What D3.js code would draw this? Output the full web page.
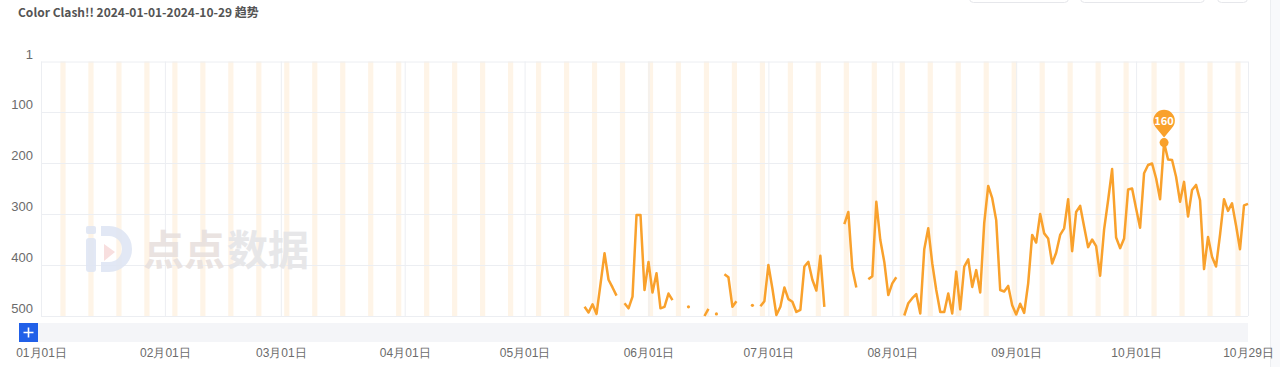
<!DOCTYPE html>
<html>
<head>
<meta charset="utf-8">
<script src="https://cdn.jsdelivr.net/npm/d3@7"></script>
<style>
  body { margin: 0; background: #fff; }
  svg { display: block; font-family: "Noto Sans CJK SC", "Noto Sans", sans-serif; }
</style>
</head>
<body>
<svg id="chart"></svg>
<script>
// daily rank from 2024-05-16 to 2024-10-29, null = not ranked
const firstDay = "2024-05-16";
const ranks = [
  482, 493, 477, 496, 437, 377, 429, 444, 460, null,
  475, 485, 462, 302, 302, 449, 394, 454, 416, 485,
  482, 456, 469, null, null, null, 482, null, null, null,
  500, 486, null, 496, null, 418, 424, 482, 471, null,
  null, null, 479, null, 481, 471, 400, 446, 498, 482,
  444, 467, 472, 492, 488, 403, 394, 429, 450, 382,
  482, null, null, null, null, 320, 296, 407, 444, null,
  null, 428, 422, 276, 351, 394, 459, 436, 424, null,
  499, 475, 465, 457, 495, 369, 328, 397, 449, 492,
  492, 456, 495, 413, 487, 403, 389, 443, 410, 454,
  318, 245, 269, 312, 449, 452, 441, 479, 497, 476,
  494, 436, 341, 356, 300, 338, 348, 397, 376, 341,
  328, 271, 373, 296, 284, 325, 365, 350, 363, 421,
  330, 273, 212, 346, 367, 348, 252, 250, 289, 327,
  220, 204, 201, 230, 271, 160, 193, 194, 227, 276,
  237, 305, 253, 243, 273, 408, 345, 384, 403, 341,
  271, 294, 279, 322, 369, 283, 280
];
const rangeStart = "2024-01-01";
const rangeEnd = "2024-10-29";
const yTicks = [1, 100, 200, 300, 400, 500];
const xTickDates = ["2024-01-01", "2024-02-01", "2024-03-01", "2024-04-01", "2024-05-01",
  "2024-06-01", "2024-07-01", "2024-08-01", "2024-09-01", "2024-10-01", "2024-10-29"];
const peakDate = "2024-10-08";
const peakLabel = "160";
const title = "Color Clash!! 2024-01-01-2024-10-29 趋势";

document.addEventListener("DOMContentLoaded", function () {
  const w = 1280;
  const h = 367;
  const left = 41;
  const right = 1248;
  const top = 61.5;
  const bottom = 316;
  const lineColor = "#f9a12c";

  const parse = d3.utcParse("%Y-%m-%d");
  const start = parse(firstDay);
  const data = ranks.map((r, i) => ({ date: d3.utcDay.offset(start, i), rank: r }));

  const svg = d3.select("#chart").attr("width", w).attr("height", h);

  const xScale = d3.scaleUtc().domain([parse(rangeStart), parse(rangeEnd)]).range([left, right]);
  const yScale = d3.scaleLinear().domain([1, 500]).range([top, bottom]);

  // title
  svg.append("text")
    .attr("x", 18).attr("y", 17)
    .attr("font-size", 12).attr("font-weight", "bold")
    .attr("fill", "#545454")
    .text(title);

  // controls cut off at the top right
  [[969, 99], [1080, 124], [1217, 30]].forEach(([bx, bw]) => {
    svg.append("rect")
      .attr("x", bx + 0.5).attr("y", -20).attr("width", bw).attr("height", 22.5).attr("rx", 4)
      .attr("fill", "#fff").attr("stroke", "#e6e7eb");
  });
  svg.append("rect").attr("x", 1270).attr("y", 0).attr("width", 10).attr("height", h).attr("fill", "#f8f9fb");
  svg.append("line").attr("x1", 1270.5).attr("x2", 1270.5).attr("y1", 0).attr("y2", h).attr("stroke", "#eceef1");

  // weekend stripes
  const saturdays = d3.utcSaturday.range(parse(rangeStart), d3.utcDay.offset(parse(rangeEnd), 1));
  svg.append("g")
    .selectAll("rect")
    .data(saturdays)
    .enter()
    .append("rect")
    .attr("x", (d) => xScale(d) - 0.6)
    .attr("width", (d) => Math.min(xScale(d3.utcDay.offset(d, 1)) + 0.6, right) - xScale(d) + 0.6)
    .attr("y", top)
    .attr("height", bottom - top)
    .attr("fill", "#fef4e7");

  // axes + grid
  const yAxis = d3.axisLeft(yScale).tickValues(yTicks).tickSize(-(right - left)).tickPadding(8);
  const yG = svg.append("g").attr("transform", `translate(${left}, 0)`).call(yAxis);
  yG.select(".domain").remove();
  yG.selectAll("line").attr("stroke", "#eceef2");
  yG.selectAll("text").attr("y", -7.5).attr("font-size", 13).attr("fill", "#6b6b6b");

  const xAxis = d3.axisBottom(xScale)
    .tickValues(xTickDates.map(parse))
    .tickFormat(d3.utcFormat("%m月%d日"))
    .tickSize(-(bottom - top))
    .tickPadding(32);
  const xG = svg.append("g").attr("transform", `translate(0, ${bottom})`).call(xAxis);
  xG.select(".domain").remove();
  xG.selectAll("line").attr("stroke", "#eceef2");
  xG.selectAll("text").attr("font-size", 12).attr("fill", "#6b6b6b");

  // watermark
  const wm = svg.append("g").attr("opacity", 0.9);
  wm.append("rect").attr("x", 86).attr("y", 226).attr("width", 10).attr("height", 8).attr("rx", 2).attr("fill", "#dfe6f4");
  wm.append("rect").attr("x", 86).attr("y", 238).attr("width", 10).attr("height", 34).attr("rx", 3).attr("fill", "#dfe6f4");
  wm.append("path")
    .attr("d", "M101,231 h8 a18,18 0 0 1 0,36 h-8")
    .attr("fill", "none").attr("stroke", "#dfe6f4").attr("stroke-width", 10);
  wm.append("path").attr("d", "M104,244 L115,252 L104,261 Z").attr("fill", "#f8dcdc");
  wm.append("text")
    .attr("x", 143).attr("y", 265)
    .attr("font-size", 41).attr("font-weight", "bold")
    .attr("fill", "#e8e1de")
    .text("点点");
  wm.append("text")
    .attr("x", 227).attr("y", 265)
    .attr("font-size", 41).attr("font-weight", "bold")
    .attr("fill", "#e5e5e7")
    .text("数据");

  // slider
  svg.append("rect").attr("x", 38).attr("y", 323).attr("width", right - 38).attr("height", 19).attr("fill", "#f4f5f8");
  svg.append("rect").attr("x", 19).attr("y", 323).attr("width", 19).attr("height", 19).attr("fill", "#2160e8");
  svg.append("path").attr("d", "M23.5,332.5 h10 M28.5,327.5 v10").attr("stroke", "#fff").attr("stroke-width", 1.6);

  // rank line
  const line = d3.line()
    .defined((d) => d.rank != null)
    .x((d) => xScale(d.date))
    .y((d) => yScale(d.rank));

  svg.append("path")
    .datum(data)
    .attr("d", line)
    .attr("fill", "none")
    .attr("stroke", lineColor)
    .attr("stroke-width", 2.5)
    .attr("stroke-linejoin", "round");

  const lonely = data.filter((d, i) =>
    d.rank != null && (i === 0 || data[i - 1].rank == null) && (i === data.length - 1 || data[i + 1].rank == null));
  svg.selectAll(".lonely")
    .data(lonely)
    .enter()
    .append("circle")
    .attr("class", "lonely")
    .attr("cx", (d) => xScale(d.date))
    .attr("cy", (d) => yScale(d.rank))
    .attr("r", 1.6)
    .attr("fill", lineColor);

  // best rank pin
  const peak = data.find((d) => +d.date === +parse(peakDate));
  const px = xScale(peak.date);
  const py = yScale(peak.rank);
  const R = 10.8;
  const cy = py - 22;
  const k = R * Math.SQRT1_2;
  svg.append("path")
    .attr("d", `M${px - k},${cy + k} A${R},${R} 0 1 1 ${px + k},${cy + k} L${px},${py - 5} Z`)
    .attr("fill", lineColor);
  svg.append("circle").attr("cx", px).attr("cy", py).attr("r", 4.5).attr("fill", lineColor);
  svg.append("text")
    .attr("x", px).attr("y", cy + 4)
    .attr("text-anchor", "middle")
    .attr("font-size", 11).attr("font-weight", "bold")
    .attr("fill", "#fff")
    .text(peakLabel);
});
</script>
</body>
</html>
